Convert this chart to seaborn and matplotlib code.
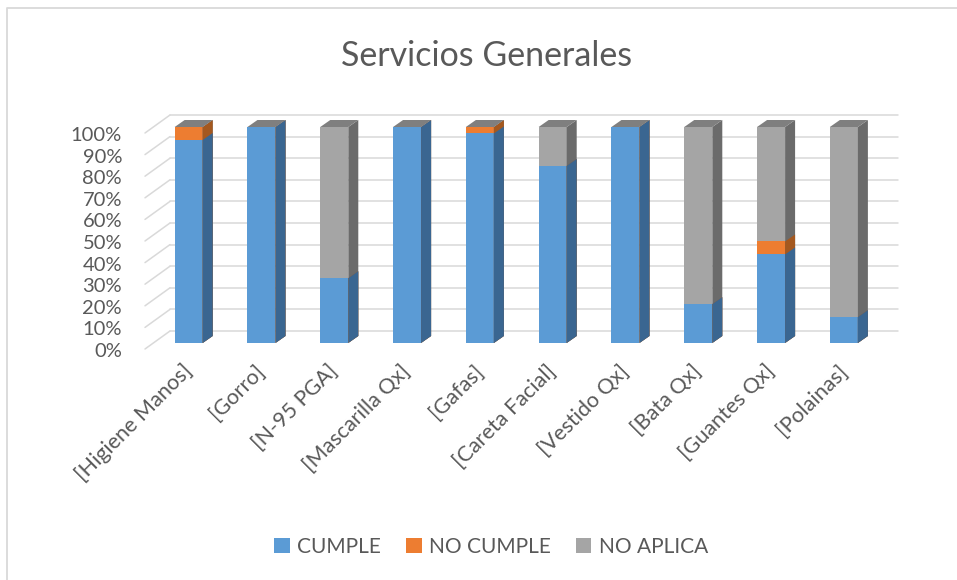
import numpy as np
import pandas as pd
import matplotlib
matplotlib.use("Agg")
import matplotlib.pyplot as plt
from matplotlib.patches import Polygon, Patch
from matplotlib.lines import Line2D
from matplotlib.transforms import ScaledTranslation, IdentityTransform
import seaborn as sns

# data (percent of each item)
items = ["[Higiene Manos]", "[Gorro]", "[N-95 PGA]", "[Mascarilla Qx]", "[Gafas]",
         "[Careta Facial]", "[Vestido Qx]", "[Bata Qx]", "[Guantes Qx]", "[Polainas]"]
cumple = [94, 100, 30, 100, 97, 82, 100, 18, 41, 12]
no_cumple = [6, 0, 0, 0, 3, 0, 0, 0, 6, 0]
no_aplica = [0, 0, 70, 0, 0, 18, 0, 82, 53, 88]
series = ["CUMPLE", "NO CUMPLE", "NO APLICA"]

front_colors = ["#5B9BD5", "#ED7D31", "#A5A5A5"]
side_colors = ["#3A6691", "#A4581F", "#6B6B6B"]
top_color = "#7F7F7F"
text_color = "#595959"
grid_color = "#D9D9D9"

sns.set_style("white")
plt.rcParams["font.family"] = ["Lato", "DejaVu Sans"]

W, H = 957, 580
fig = plt.figure(figsize=(W / 100, H / 100), dpi=100)
ax = fig.add_axes([145 / W, 1 - 343 / H, (873 - 145) / W, 216 / H])

df = pd.DataFrame({"item": items, "CUMPLE": cumple, "NO CUMPLE": no_cumple, "NO APLICA": no_aplica})
df["c1"] = df["CUMPLE"]
df["c2"] = df["c1"] + df["NO CUMPLE"]
df["c3"] = df["c2"] + df["NO APLICA"]

# stacked bars: draw cumulative totals from the back to the front
groups = []
for col, color in zip(["c3", "c2", "c1"], front_colors[::-1]):
    n = len(ax.patches)
    sns.barplot(data=df, x="item", y=col, color=color, width=0.385, saturation=1,
                errorbar=None, linewidth=0, zorder=3, ax=ax)
    groups.append(ax.patches[n:])

ax.set_xlim(-0.6, 9.4)
ax.set_ylim(0, 100)
ax.set_xlabel("")
ax.set_ylabel("")
ax.grid(False)
sns.despine(ax=ax, left=True, bottom=True)

to_px = ax.transData.transform
px = IdentityTransform()

# fake 3d: side and top faces of each bar
bdx, bdy = 10, 7
for patches, side in zip(groups, side_colors[::-1]):
    for p in patches:
        (xl, yb), (xr, yt) = to_px([(p.get_x(), p.get_y()),
                                   (p.get_x() + p.get_width(), p.get_y() + p.get_height())])
        ax.add_artist(Polygon([(xr, yb), (xr + bdx, yb + bdy), (xr + bdx, yt + bdy), (xr, yt)],
                              transform=px, facecolor=side, edgecolor="none", clip_on=False, zorder=3))
for p in groups[0]:
    (xl, yb), (xr, yt) = to_px([(p.get_x(), p.get_y()),
                               (p.get_x() + p.get_width(), p.get_y() + p.get_height())])
    ax.add_artist(Polygon([(xl, yt), (xr, yt), (xr + bdx, yt + bdy), (xl + bdx, yt + bdy)],
                          transform=px, facecolor=top_color, edgecolor="none", clip_on=False, zorder=3))

# back wall gridlines + left wall diagonals
x_front = to_px((-0.6, 0))[0]
x_right = to_px((9.4, 0))[0] + 25
for v in range(0, 101, 10):
    y = to_px((0, v))[1]
    ax.add_artist(Line2D([x_front, x_front + 25], [y - 6, y + 12], transform=px,
                         color=grid_color, lw=1.1, clip_on=False, zorder=1))
    ax.add_artist(Line2D([x_front + 25, x_right], [y + 12, y + 12], transform=px,
                         color=grid_color, lw=1.1, clip_on=False, zorder=1))

ax.set_yticks(range(0, 101, 10))
ax.set_yticklabels([f"{v}%" for v in range(0, 101, 10)])
ax.tick_params(axis="y", length=0, pad=16.5, labelsize=14.5, labelcolor=text_color)
for lab in ax.get_yticklabels():
    lab.set_transform(lab.get_transform() + ScaledTranslation(0, -0.07, fig.dpi_scale_trans))

ax.set_xticks(range(len(items)))
ax.set_xticklabels(items, rotation=45, ha="right", va="center", rotation_mode="anchor")
ax.tick_params(axis="x", length=0, pad=18, labelsize=15.5, labelcolor=text_color)

fig.text(487 / W, 1 - 56 / H, "Servicios Generales", ha="center", va="center",
         fontsize=24.5, color=text_color)

handles = [Patch(facecolor=c, edgecolor="none") for c in front_colors]
fig.legend(handles, series, loc="center", bbox_to_anchor=(491 / W, 1 - 547 / H), ncol=3,
           frameon=False, handlelength=0.75, handleheight=0.75, handletextpad=0.35,
           columnspacing=1.2, fontsize=15, labelcolor=text_color)

# chart frame (only left and top edges visible in the crop)
fig.add_artist(Line2D([7 / W, 7 / W, 1], [0, 1 - 8 / H, 1 - 8 / H], transform=fig.transFigure,
                      color=grid_color, lw=1.3))

fig.savefig("out.png", dpi=100)
